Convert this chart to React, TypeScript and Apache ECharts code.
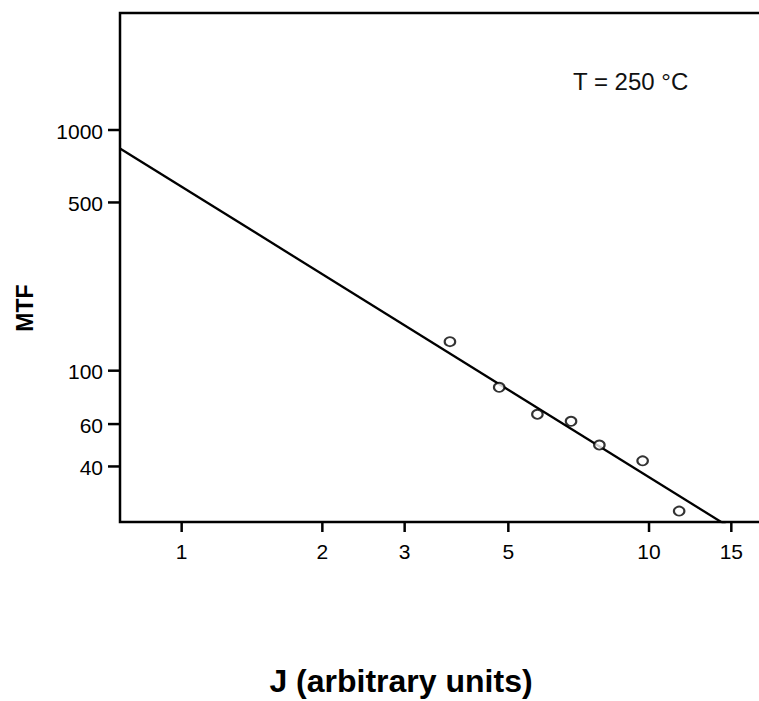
import React, { useEffect, useRef } from "react";
import * as echarts from "echarts";

const FONT = '"Liberation Sans", Arial, Helvetica, sans-serif';

// Axis ranges (log-log)
const X_MIN = 0.738;
const X_MAX = 21.04;
const Y_MIN = 23.51;
const Y_MAX = 3063;

// Tick labels
const xTickValues = [1, 2, 3, 5, 10, 15];
const yTickValues = [40, 60, 100, 500, 1000];

// Measured points
const jValues = [3.75, 4.78, 5.77, 6.81, 7.83, 9.69, 11.6];
const mtfValues = [132, 85.3, 65.9, 61.6, 49.1, 42.2, 26.1];

// Fitted line endpoints
const fitJ = [0.738, 14.8];
const fitMTF = [838, 22.5];

const xTitle = "J (arbitrary units)";
const yTitle = "MTF";
const annotation = "T = 250 °C";

export default function App() {
  const ref = useRef<HTMLDivElement>(null);

  useEffect(() => {
    if (!ref.current) return;
    const chart = echarts.init(ref.current, undefined, { renderer: "svg" });

    const hiddenAxis = {
      axisLine: { show: false },
      axisTick: { show: false },
      axisLabel: { show: false },
      splitLine: { show: false },
      minorTick: { show: false },
      minorSplitLine: { show: false },
    };

    const option: any = {
      animation: false,
      backgroundColor: "#fff",
      grid: {
        left: 120,
        top: 13,
        width: 680,
        height: 509,
        outerBoundsMode: "none",
        containLabel: false,
        show: true,
        borderColor: "#000",
        borderWidth: 2.5,
        backgroundColor: "transparent",
      },
      xAxis: { type: "log", logBase: 10, min: X_MIN, max: X_MAX, ...hiddenAxis },
      yAxis: { type: "log", logBase: 10, min: Y_MIN, max: Y_MAX, ...hiddenAxis },
      graphic: [
        {
          type: "text",
          x: 573,
          y: 81,
          style: {
            text: annotation,
            fontSize: 24,
            fontFamily: FONT,
            fill: "#111",
            align: "left",
            verticalAlign: "middle",
          },
        },
        {
          type: "text",
          x: 25,
          y: 308,
          rotation: Math.PI / 2,
          style: {
            text: yTitle,
            fontSize: 23,
            fontWeight: "bold",
            fontFamily: FONT,
            fill: "#000",
            align: "center",
            verticalAlign: "middle",
          },
        },
        {
          type: "text",
          x: 401,
          y: 681,
          style: {
            text: xTitle,
            fontSize: 32,
            fontWeight: "bold",
            fontFamily: FONT,
            fill: "#000",
            align: "center",
            verticalAlign: "middle",
          },
        },
      ],
      series: [
        {
          type: "line",
          data: fitJ.map((j, i) => [j, fitMTF[i]]),
          symbol: "none",
          showSymbol: false,
          lineStyle: { color: "#000", width: 2.3 },
          clip: true,
          z: 2,
        },
        {
          type: "scatter",
          data: jValues.map((j, i) => [j, mtfValues[i]]),
          symbol: "circle",
          symbolSize: [10.5, 9],
          itemStyle: { color: "#fff", borderColor: "#000", borderWidth: 2 },
          z: 3,
        },
        {
          type: "custom",
          data: xTickValues.map((v) => [v, Y_MIN]),
          clip: false,
          z: 4,
          renderItem: (_params: any, api: any) => {
            const v = api.value(0);
            const p = api.coord([v, Y_MIN]);
            return {
              type: "group",
              children: [
                {
                  type: "line",
                  shape: { x1: p[0], y1: p[1], x2: p[0], y2: p[1] + 10 },
                  style: { stroke: "#000", lineWidth: 2.5 },
                },
                {
                  type: "text",
                  x: p[0],
                  y: p[1] + 29,
                  style: {
                    text: String(v),
                    fontSize: 21,
                    fontFamily: FONT,
                    fill: "#000",
                    align: "center",
                    verticalAlign: "middle",
                  },
                },
              ],
            };
          },
        },
        {
          type: "custom",
          data: yTickValues.map((v) => [X_MIN, v]),
          clip: false,
          z: 4,
          renderItem: (_params: any, api: any) => {
            const v = api.value(1);
            const p = api.coord([X_MIN, v]);
            return {
              type: "group",
              children: [
                {
                  type: "line",
                  shape: { x1: p[0] - 12, y1: p[1], x2: p[0], y2: p[1] },
                  style: { stroke: "#000", lineWidth: 2.5 },
                },
                {
                  type: "text",
                  x: p[0] - 17,
                  y: p[1] + 1,
                  style: {
                    text: String(v),
                    fontSize: 21,
                    fontFamily: FONT,
                    fill: "#000",
                    align: "right",
                    verticalAlign: "middle",
                  },
                },
              ],
            };
          },
        },
      ],
    };

    chart.setOption(option);
    return () => {
      chart.dispose();
    };
  }, []);

  return (
    <div
      ref={ref}
      style={{ position: "absolute", left: 0, top: 0, width: 759, height: 701 }}
    />
  );
}
